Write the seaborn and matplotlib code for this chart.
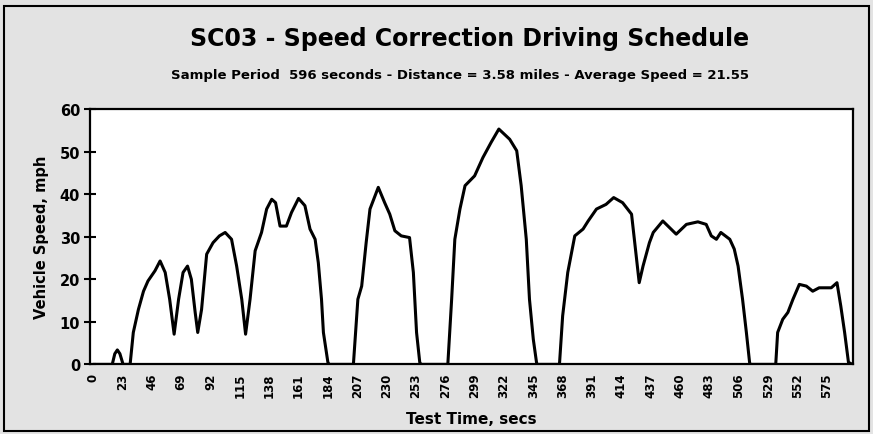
import matplotlib
matplotlib.use('Agg')
import matplotlib.pyplot as plt
import seaborn as sns
from matplotlib.patches import Rectangle

# Speed trace (seconds, mph)
time_s = [0, 15, 17, 19, 21, 23.5, 29, 31.5, 35.5, 39.5, 43, 48.5, 52.5, 56.5, 60,
          63.5, 67, 70.5, 74, 77, 80, 82, 85, 89, 94, 99, 103.5, 108.5, 112.5,
          116.5, 119.5, 123, 127, 132, 136, 140, 143, 146.5, 151.5, 155.5, 161,
          166, 170, 174, 176.5, 179, 180.5, 184, 185, 204, 207.5, 210.5, 214, 217,
          223.5, 228.5, 232.5, 236.5, 241.5, 248, 251, 253.5, 256, 257, 278, 281,
          283.5, 287.5, 291.5, 299, 305.5, 312, 318, 326.5, 332, 335.5, 339.5, 342,
          345, 347.5, 348, 365.5, 368, 372, 377.5, 384, 388, 394.5, 402, 408, 415,
          422, 424.5, 428, 431, 436, 439, 446.5, 457, 465, 474, 480.5, 484.5,
          488.5, 492, 499, 502.5, 505.5, 509, 512, 514.5, 515, 535, 536.5, 540.5,
          544.5, 548.5, 553.5, 559, 564, 569, 578.5, 583, 586, 589, 592, 595]
speed_mph = [0, 0, 2.5, 3.4, 2.5, 0, 0, 7.5, 12.9, 17.2, 19.6, 22, 24.3, 21.6, 15.3,
             7.1, 15.3, 21.6, 23.1, 20, 12.2, 7.5, 12.9, 25.9, 28.6, 30.2, 31, 29.4, 23.1,
             15.3, 7.1, 15.3, 26.7, 31, 36.5, 38.8, 38, 32.5, 32.5, 35.7, 39,
             37.3, 31.8, 29.4, 23.9, 15.3, 7.5, 0.5, 0, 0, 15.3, 18.4, 28.6, 36.5,
             41.6, 38, 35.3, 31.4, 30.2, 29.8, 21.6, 7.5, 0.5, 0, 0, 15.3,
             29.4, 36.5, 42, 44.3, 48.6, 52.2, 55.3, 52.9, 50.2, 42, 29.4, 15.3,
             5.9, 0.5, 0, 0, 11.4, 21.6, 30.2, 31.8, 33.7, 36.5, 37.6, 39.2, 38,
             35.3, 28.6, 19.2, 23.1, 28.6, 31, 33.7, 30.6, 32.9, 33.5, 32.9, 30.2,
             29.4, 31, 29.4, 27.1, 23.1, 15.3, 7.5, 0.5, 0, 0, 7.5, 10.6,
             12.2, 15.3, 18.8, 18.4, 17.2, 18, 18, 19.2, 13.7, 7.5, 0.5, 0]

x_ticks = list(range(0, 576, 23))
y_ticks = [0, 10, 20, 30, 40, 50, 60]

title = 'SC03 - Speed Correction Driving Schedule'
subtitle = 'Sample Period  596 seconds - Distance = 3.58 miles - Average Speed = 21.55'

sns.set_style('white')
plt.rcParams['font.family'] = ['DejaVu Sans']
plt.rcParams['text.color'] = 'black'
plt.rcParams['axes.labelcolor'] = 'black'
plt.rcParams['xtick.color'] = 'black'
plt.rcParams['ytick.color'] = 'black'

fig = plt.figure(figsize=(8.73, 4.35), dpi=100)
fig.patch.set_facecolor('#e3e3e3')
ax = fig.add_axes([0.103, 0.16, 0.874, 0.587])
ax.set_facecolor('white')

sns.lineplot(x=time_s, y=speed_mph, ax=ax, color='black', linewidth=2.2)

ax.set_xlim(-2.5, 595.5)
ax.set_ylim(0, 60)
ax.set_xticks(x_ticks)
ax.set_xticklabels([str(t) for t in x_ticks], rotation=90, fontsize=8.5, fontweight='bold')
ax.set_yticks(y_ticks)
ax.set_yticklabels([str(v) for v in y_ticks], fontsize=10.5, fontweight='bold')
ax.tick_params(axis='x', length=0, pad=6)
ax.tick_params(axis='y', direction='inout', length=8, width=1.5, left=True, pad=3)

for s in ax.spines.values():
    s.set_color('black')
    s.set_linewidth(1.6)

ax.set_xlabel('Test Time, secs', fontsize=11, fontweight='bold', labelpad=10)
ax.set_ylabel('Vehicle Speed, mph', fontsize=10.5, fontweight='bold', labelpad=8)

fig.text(0.538, 0.91, title, ha='center', va='center', fontsize=17, fontweight='bold')
fig.text(0.527, 0.827, subtitle, ha='center', va='center', fontsize=9.5, fontweight='bold')

fig.patches.append(Rectangle((0.005, 0.008), 0.99, 0.975, transform=fig.transFigure,
                             fill=False, edgecolor='black', linewidth=1.5))

plt.savefig('out.png', dpi=100)
plt.close()
